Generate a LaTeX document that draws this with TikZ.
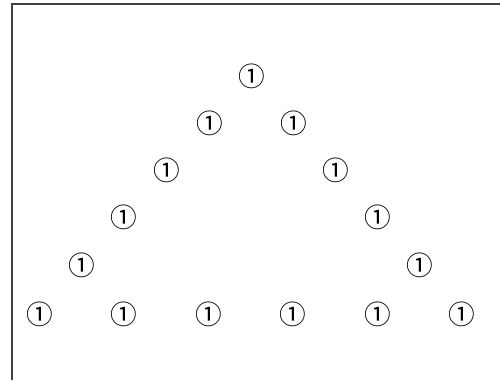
\documentclass[tikz,border=0pt]{standalone}
\usepackage{fontspec}
\newfontfamily\circfont{Noto Sans CJK SC}
\tikzset{
  num/.style={inner sep=0pt, font=\circfont\fontsize{20}{22}\selectfont},
  frameline/.style={line width=1.5pt, draw=black!75}
}
\begin{document}
\begin{tikzpicture}[x=0.75pt,y=-0.75pt]
\useasboundingbox (0,0) rectangle (500,380);
\coordinate (tl) at (11.5,3.5);
\coordinate (tr) at (500,3.5);
\coordinate (bl) at (11.5,380);
\draw[frameline] (tr) -- (tl) -- (bl);
\node[num] (a1) at (252,76) {①};
\node[num] (b1) at (210,123) {①};
\node[num] (b2) at (294,123) {①};
\node[num] (c1) at (167,170) {①};
\node[num] (c2) at (336,170) {①};
\node[num] (d1) at (124,217) {①};
\node[num] (d2) at (378,217) {①};
\node[num] (e1) at (82,265) {①};
\node[num] (e2) at (420,265) {①};
\node[num] (f1) at (40,314) {①};
\node[num] (f2) at (124,314) {①};
\node[num] (f3) at (209,314) {①};
\node[num] (f4) at (293,314) {①};
\node[num] (f5) at (378,314) {①};
\node[num] (f6) at (462,314) {①};
\end{tikzpicture}
\end{document}
